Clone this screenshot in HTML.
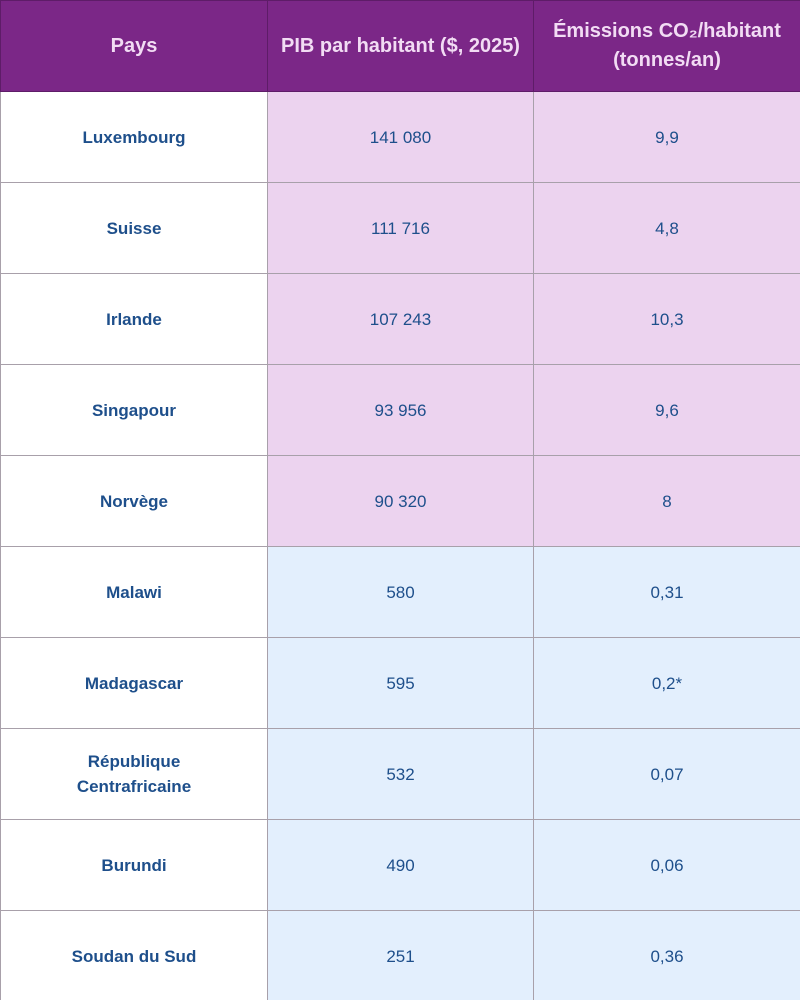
<!DOCTYPE html>
<html><head><meta charset="utf-8"><style>
html,body{margin:0;padding:0;width:800px;height:1000px;overflow:hidden;background:#fff}
table{border-collapse:collapse;table-layout:fixed;width:800px;font-family:"Liberation Sans",sans-serif}
td,th{text-align:center;vertical-align:middle;border:1px solid #a8a0aa;padding:0 6px}
th{background:#7b2787;color:#f2dcf4;height:90px;font-family:"Liberation Sans Narrow","Liberation Sans",sans-serif;font-size:20px;font-weight:bold;line-height:29px;border-color:#5e1c68}
td{height:90px;font-size:17px;color:#1e4f8b;line-height:25px}
td.c{font-weight:bold;background:#fff}
tr.p td.v{background:#ecd3ef}
tr.b td.v{background:#e3effd}
</style></head><body>
<table>
<colgroup><col style="width:267px"><col style="width:266px"><col style="width:267px"></colgroup>
<tr><th>Pays</th><th>PIB par habitant ($, 2025)</th><th>Émissions CO₂/habitant<br>(tonnes/an)</th></tr>
<tr class="p"><td class="c">Luxembourg</td><td class="v">141 080</td><td class="v">9,9</td></tr>
<tr class="p"><td class="c">Suisse</td><td class="v">111 716</td><td class="v">4,8</td></tr>
<tr class="p"><td class="c">Irlande</td><td class="v">107 243</td><td class="v">10,3</td></tr>
<tr class="p"><td class="c">Singapour</td><td class="v">93 956</td><td class="v">9,6</td></tr>
<tr class="p"><td class="c">Norvège</td><td class="v">90 320</td><td class="v">8</td></tr>
<tr class="b"><td class="c">Malawi</td><td class="v">580</td><td class="v">0,31</td></tr>
<tr class="b"><td class="c">Madagascar</td><td class="v">595</td><td class="v">0,2*</td></tr>
<tr class="b"><td class="c">République<br>Centrafricaine</td><td class="v">532</td><td class="v">0,07</td></tr>
<tr class="b"><td class="c">Burundi</td><td class="v">490</td><td class="v">0,06</td></tr>
<tr class="b"><td class="c">Soudan du Sud</td><td class="v">251</td><td class="v">0,36</td></tr>
</table>
</body></html>
